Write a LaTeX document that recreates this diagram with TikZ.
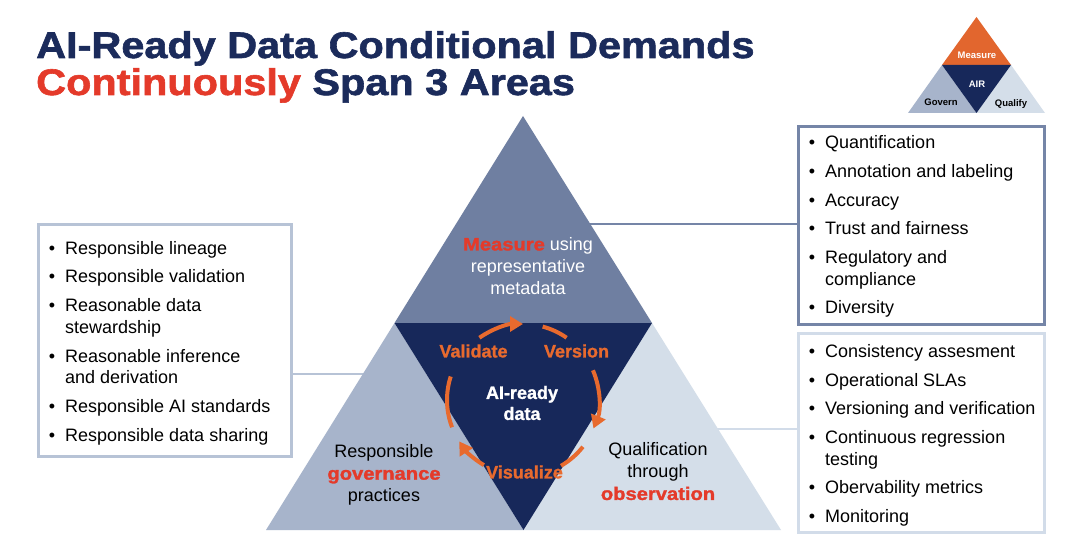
\documentclass[tikz,border=0pt]{standalone}
\usepackage{fontspec}
\setmainfont{Liberation Sans}
\newfontfamily\heavyfont[FakeBold=1.6,FakeStretch=1.12]{Liberation Sans Bold}
\newfontfamily\heavyb[FakeBold=1.2]{Liberation Sans Bold}
\usetikzlibrary{arrows.meta}
\definecolor{navy}{HTML}{17285A}
\definecolor{slate}{HTML}{6F7FA1}
\definecolor{govc}{HTML}{A7B4CB}
\definecolor{qualc}{HTML}{D4DEE9}
\definecolor{orng}{HTML}{E86A2E}
\definecolor{redt}{HTML}{E43A2A}
\definecolor{titlec}{HTML}{1B2B5B}
\definecolor{boxA}{HTML}{B7C3D6}
\definecolor{boxB}{HTML}{7585A7}
\definecolor{boxC}{HTML}{D2DCE9}
\definecolor{iconorg}{HTML}{E2662E}
\begin{document}
\begin{tikzpicture}[x=1pt,y=-1pt,
  itemtext/.style={anchor=base west,inner sep=0pt,font=\fontsize{18}{21}\selectfont,text=black},
  bul/.style={anchor=base,inner sep=0pt,font=\fontsize{18}{21}\selectfont,text=black},
  listbox/.style={draw,line width=2.5pt,anchor=north west,inner sep=0pt},
  conn/.style={line width=2.5pt},
  cyc/.style={draw=orng,line width=4pt},
  cyctip/.style={-{Triangle[length=13pt,width=15pt]}},
  cyclabel/.style={font=\fontsize{18}{21}\heavyb,text=orng,inner sep=0pt},
  trilabel/.style={align=center,inner sep=0pt,font=\fontsize{18}{22}\selectfont},
  iconlabel/.style={font=\fontsize{9.5}{11}\bfseries,inner sep=0pt}
]
\useasboundingbox[fill=white] (0,0) rectangle (1080,543);

% title
\node[anchor=base west,inner sep=0pt,font=\fontsize{37}{40}\heavyfont,text=titlec] (t1) at (36,58) {AI-Ready Data Conditional Demands};
\node[anchor=base west,inner sep=0pt,font=\fontsize{37}{40}\heavyfont,text=titlec] (t2) at (36,95) {\textcolor{redt}{Continuously} Span 3 Areas};

% big triangle coordinates
\coordinate (apex) at (523,116);
\coordinate (ml) at (394.5,323);
\coordinate (mr) at (652,323);
\coordinate (bl) at (266,530);
\coordinate (bm) at (523.5,530);
\coordinate (br) at (781,530);

% boxes
\node[listbox,draw=boxA,minimum width=253pt,minimum height=232pt] (gbox) at (37,223) {};
\node[listbox,draw=boxB,minimum width=246pt,minimum height=198pt] (mbox) at (797,125) {};
\node[listbox,draw=boxC,minimum width=246pt,minimum height=199pt] (qbox) at (797,332) {};

% connector anchor points on triangle edges
\coordinate (gl) at (370,374);
\coordinate (mc) at (584,224);
\coordinate (qc) at (712,429);
\draw[conn,boxA] (gbox.east |- gl) -- (gl);
\draw[conn,boxB] (mc) -- (mc -| mbox.west);
\draw[conn,boxC] (qc) -- (qc -| qbox.west);

% triangles
\fill[slate] (apex) -- (mr) -- (ml) -- cycle;
\fill[govc] (ml) -- (bm) -- (bl) -- cycle;
\fill[qualc] (mr) -- (br) -- (bm) -- cycle;
\fill[navy] (ml) -- (mr) -- (bm) -- cycle;

% triangle texts
\node[trilabel,text=white] (mtext) at (528,266) {{\heavyfont\textcolor{redt}{Measure}} using\\representative\\metadata};
\node[trilabel,text=black] (gtext) at (384,475) {Responsible\\{\heavyfont\textcolor{redt}{governance}}\\practices};
\node[trilabel,text=black] (qtext) at (658,471.5) {Qualification\\through\\{\heavyfont\textcolor{redt}{observation}}};
\node[align=center,inner sep=0pt,text=white,font=\fontsize{18}{21}\heavyb] (air) at (522,403) {AI-ready\\data};

% cycle
\coordinate (cc) at (523,400);
\draw[cyc,cyctip] ([shift={(-125:76)}]cc) arc[start angle=-125,end angle=-90,radius=76];
\draw[cyc] ([shift={(-75:76)}]cc) arc[start angle=-75,end angle=-55,radius=76];
\draw[cyc,cyctip] ([shift={(-23:76)}]cc) arc[start angle=-23,end angle=22,radius=76];
\draw[cyc] ([shift={(38:76)}]cc) arc[start angle=38,end angle=60,radius=76];
\draw[cyc,cyctip] ([shift={(121:76)}]cc) arc[start angle=121,end angle=147,radius=76];
\draw[cyc] ([shift={(159:76)}]cc) arc[start angle=159,end angle=198,radius=76];
\node[cyclabel] (val) at (473.5,351) {Validate};
\node[cyclabel] (ver) at (576.5,351) {Version};
\node[cyclabel] (vis) at (524.5,472) {Visualize};

% left list
\foreach \yy/\tx/\b in {254/Responsible lineage/1, 282/Responsible validation/1, 311/Reasonable data/1, 333/stewardship/0, 362/Reasonable inference/1, 383/and derivation/0, 412/Responsible AI standards/1, 441/Responsible data sharing/1}{
  \node[itemtext] at (65,\yy) {\tx};
  \ifnum\b=1 \node[bul] at (52,\yy) {\textbullet}; \fi
}
% measure list
\foreach \yy/\tx/\b in {148/Quantification/1, 177/Annotation and labeling/1, 206/Accuracy/1, 234/Trust and fairness/1, 263/Regulatory and/1, 285/compliance/0, 313/Diversity/1}{
  \node[itemtext] at (825,\yy) {\tx};
  \ifnum\b=1 \node[bul] at (812,\yy) {\textbullet}; \fi
}
% qualify list
\foreach \yy/\tx/\b in {357/Consistency assesment/1, 386/Operational SLAs/1, 414/Versioning and verification/1, 443/Continuous regression/1, 465/testing/0, 493/Obervability metrics/1, 522/Monitoring/1}{
  \node[itemtext] at (825,\yy) {\tx};
  \ifnum\b=1 \node[bul] at (812,\yy) {\textbullet}; \fi
}

% icon
\coordinate (ia) at (976.5,17);
\coordinate (iml) at (942,65);
\coordinate (imr) at (1011,65);
\coordinate (ibl) at (908,113);
\coordinate (ibm) at (976.5,113);
\coordinate (ibr) at (1045,113);
\fill[iconorg] (ia) -- (imr) -- (iml) -- cycle;
\fill[govc] (iml) -- (ibm) -- (ibl) -- cycle;
\fill[qualc] (imr) -- (ibr) -- (ibm) -- cycle;
\fill[navy] (iml) -- (imr) -- (ibm) -- cycle;
\node[iconlabel,text=white] (imeas) at (977,55) {Measure};
\node[iconlabel,text=white] (iair) at (977,84) {AIR};
\node[iconlabel,text=black] (igov) at (941,102) {Govern};
\node[iconlabel,text=black] (iqual) at (1011,104) {Qualify};
\end{tikzpicture}
\end{document}
